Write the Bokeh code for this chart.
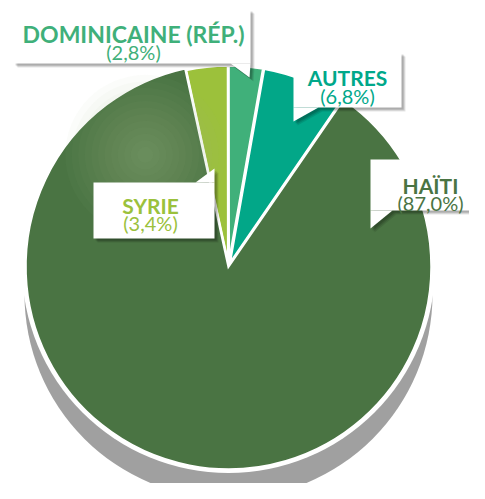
import numpy as np
from bokeh.plotting import figure
from bokeh.models import ColumnDataSource
from bokeh.core.properties import value
from bokeh.embed import file_html
from bokeh.resources import INLINE

# ---- data (clockwise, starting at the left edge of the small slices) ----
countries = ["Syrie", "Dominicaine (Rép.)", "Autres", "Haïti"]
titles = ["SYRIE", "DOMINICAINE (RÉP.)", "AUTRES", "HAÏTI"]
shares = [3.4, 2.8, 6.8, 87.0]
share_labels = ["(3,4%)", "(2,8%)", "(6,8%)", "(87,0%)"]
slice_colors = ["#9cc13b", "#40b07a", "#02a788", "#4a7443"]
text_colors = ["#9bc13c", "#3fb07a", "#00a88a", "#4a7443"]

# ---- layout (reference pixel coordinates, y downward) ----
FW, FH = 469, 483
H = 499
def Y(y):
    return H - np.asarray(y, dtype=float)

CX, CY, R = 228.0, 266.0, 203.0
START_DEG = 102.3
EXPLODE = 3.0
SHADOW_DY = 28.0

box_l = [93, 13, 293, 370]
box_r = [214, 250, 401, 478]
box_t = [182, 9, 52, 159]
box_b = [238, 63, 107, 210]
text_cx = [150, 133, 347, 430]
title_base = [205, 33, 77, 185]
sub_base = [222, 51, 95, 202]
title_size = ["21px", "23px", "21px", "21px"]
ptr_x = [[195, 214, 214], [230, 250, 249], [293, 318, 293], [370, 392, 370]]
ptr_y = [[182, 182, 168], [63, 63, 77], [107, 107, 121], [210, 210, 228]]

p = figure(width=FW, height=FH, x_range=(0, FW), y_range=(H - FH, H),
           output_backend="svg", toolbar_location=None, min_border=0)
p.axis.visible = False
p.grid.visible = False
p.outline_line_color = None

# drop shadow and white rim
p.circle(x=[CX], y=Y([CY + SHADOW_DY]), radius=R + 1, fill_color="#a0a0a0", line_color=None)
p.circle(x=[CX], y=Y([CY]), radius=R + 3.5, fill_color="white", line_color=None)

# slices
ang = np.deg2rad(START_DEG)
xs, ys, st, en, rr, cols = [], [], [], [], [], []
for i, s in enumerate(shares):
    sweep = s / 100.0 * 2 * np.pi
    a1 = ang - sweep
    mid = (ang + a1) / 2
    big = countries[i] == "Haïti"
    d = 0.0 if big else EXPLODE
    xs.append(CX + d * np.cos(mid))
    ys.append(float(Y(CY)) + d * np.sin(mid))
    st.append(a1)
    en.append(ang)
    rr.append(R if big else R - 5)
    cols.append(slice_colors[i])
    ang = a1

src = ColumnDataSource(dict(x=xs, y=ys, start=st, end=en, r=rr, color=cols))
p.wedge(x="x", y="y", radius="r", start_angle="start", end_angle="end",
        direction="anticlock", fill_color="color", line_color="white",
        line_width=2.5, line_join="miter", source=src)

# soft highlight on the large slice
hx, hy = CX - 0.41 * R, float(Y(CY)) + 0.55 * R
for rad in np.linspace(80, 8, 12):
    p.circle(x=[hx], y=[hy], radius=rad, fill_color="#9cb58c", fill_alpha=0.045, line_color=None)

# label boxes with soft shadows and pointers
bl, br = np.array(box_l, float), np.array(box_r, float)
bt, bb = Y(box_t), Y(box_b)
for off, a in ((4, 0.10), (3, 0.12), (2, 0.14)):
    p.quad(left=bl + off, right=br + off, top=bt - off, bottom=bb - off,
           fill_color="black", fill_alpha=a, line_color=None)
    p.patches(xs=[[v + off for v in px] for px in ptr_x],
              ys=[list(Y(py) - off) for py in ptr_y],
              fill_color="black", fill_alpha=a, line_color=None)
p.quad(left=bl, right=br, top=bt, bottom=bb, fill_color="white", line_color=None)
p.patches(xs=ptr_x, ys=[list(Y(py)) for py in ptr_y], fill_color="white", line_color=None)

lab = ColumnDataSource(dict(x=text_cx, yt=list(Y(title_base)), ys=list(Y(sub_base)),
                            title=titles, sub=share_labels, color=text_colors,
                            tsize=title_size))
p.text(x="x", y="yt", text="title", text_color="color", source=lab,
       text_font=value("Lato"), text_font_style="bold", text_font_size="tsize",
       text_align="center", text_baseline="alphabetic")
p.text(x="x", y="ys", text="sub", text_color="color", source=lab,
       text_font=value("Lato"), text_font_size="20px",
       text_align="center", text_baseline="alphabetic")

open("out.html", "w").write(file_html(p, INLINE))
